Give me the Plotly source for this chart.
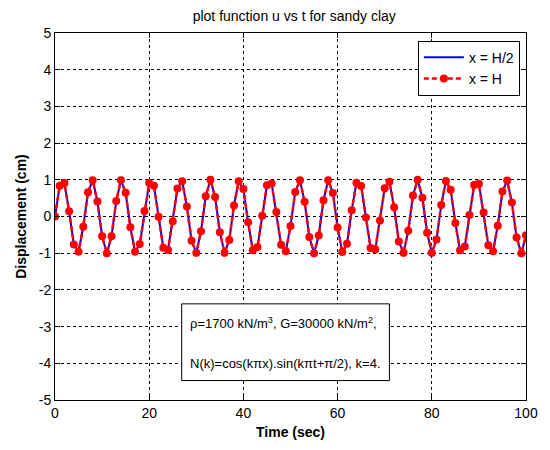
import plotly.graph_objects as go

t = list(range(0, 101))
u_half = [0.00, 0.84, 0.91, 0.14, -0.76, -0.96, -0.28, 0.66, 0.99, 0.41,
          -0.54, -1.00, -0.54, 0.42, 0.99, 0.65, -0.29, -0.96, -0.75, 0.15,
          0.91, 0.84, -0.01, -0.85, -0.91, -0.13, 0.76, 0.96, 0.27, -0.66,
          -0.99, -0.40, 0.55, 1.00, 0.53, -0.43, -0.99, -0.64, 0.30, 0.96,
          0.75, -0.16, -0.92, -0.83, 0.02, 0.85, 0.90, 0.12, -0.77, -0.95,
          -0.26, 0.67, 0.99, 0.40, -0.56, -1.00, -0.52, 0.44, 0.99, 0.64,
          -0.30, -0.97, -0.74, 0.17, 0.92, 0.83, -0.03, -0.86, -0.90, -0.11,
          0.77, 0.95, 0.25, -0.68, -0.99, -0.39, 0.57, 1.00, 0.51, -0.44,
          -0.99, -0.63, 0.31, 0.97, 0.73, -0.18, -0.92, -0.82, 0.04, 0.86,
          0.89, 0.11, -0.78, -0.95, -0.25, 0.68, 0.98, 0.38, -0.57, -1.00,
          -0.51]
u_full = list(u_half)

x_ticks = [0, 20, 40, 60, 80, 100]
x_ticklabels = ["0", "20", "40", "60", "80", "100"]
y_ticks = [-5, -4, -3, -2, -1, 0, 1, 2, 3, 4, 5]
y_ticklabels = ["-5", "-4", "-3", "-2", "-1", "0", "1", "2", "3", "4", "5"]

FONT = "Liberation Sans, Arial, Helvetica, sans-serif"

fig = go.Figure()
fig.add_trace(go.Scatter(x=t, y=u_half, mode="lines", name="x = H/2",
                         line=dict(color="#0000ff", width=2)))
fig.add_trace(go.Scatter(x=t, y=u_full, mode="lines+markers", name="x = H",
                         line=dict(color="#ff0000", width=2.5, dash="5px,3px"),
                         marker=dict(color="#ff0000", size=8, symbol="circle")))

axis_common = dict(showline=True, linecolor="black", linewidth=1, mirror="ticks",
                   ticks="inside", ticklen=5, tickcolor="black",
                   showgrid=True, gridcolor="black", griddash="dot", gridwidth=1,
                   zeroline=False, tickfont=dict(family=FONT, size=14, color="black"))

fig.update_xaxes(range=[0, 100], tickvals=x_ticks, ticktext=x_ticklabels,
                 title=dict(text="<b>Time (sec)</b>", font=dict(family=FONT, size=14, color="black"), standoff=7),
                 **axis_common)
fig.update_yaxes(range=[-5, 5], tickvals=y_ticks, ticktext=y_ticklabels,
                 title=dict(text="<b>Displacement (cm)</b>", font=dict(family=FONT, size=14, color="black"), standoff=8),
                 **axis_common)

fig.add_shape(type="rect", xref="paper", yref="paper", x0=0.269, x1=0.71, y0=0.053, y1=0.262,
              line=dict(color="black", width=1), fillcolor="white", layer="above")
fig.add_annotation(xref="paper", yref="paper", x=0.283, y=0.211, xanchor="left", yanchor="middle",
                   text="ρ=1700 kN/m<sup>3</sup>, G=30000 kN/m<sup>2</sup>,", showarrow=False,
                   font=dict(family=FONT, size=13, color="black"))
fig.add_annotation(xref="paper", yref="paper", x=0.283, y=0.099, xanchor="left", yanchor="middle",
                   text="N(k)=cos(kπx).sin(kπt+π/2), k=4.", showarrow=False,
                   font=dict(family=FONT, size=13, color="black"))

fig.update_layout(
    width=550, height=450,
    margin=dict(l=55, r=19, t=33, b=43),
    paper_bgcolor="white", plot_bgcolor="white",
    title=dict(text="plot function u vs t for sandy clay", x=0.535, xanchor="center",
               y=0.975, yanchor="top", font=dict(family=FONT, size=14, color="black")),
    legend=dict(x=0.987, y=0.979, xanchor="right", yanchor="top",
                bgcolor="white", bordercolor="black", borderwidth=1,
                font=dict(family=FONT, size=14, color="black"),
                tracegroupgap=0, itemwidth=40),
    showlegend=True,
)

fig.write_html("out.html")
